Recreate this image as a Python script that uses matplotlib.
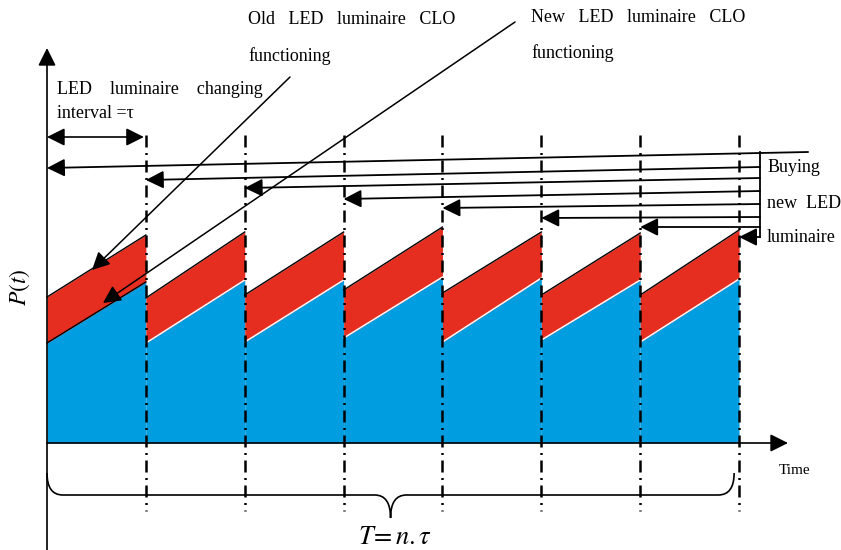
import matplotlib.pyplot as plt
import numpy as np
from matplotlib.path import Path
from matplotlib.patches import PathPatch

plt.rcParams['font.family'] = ['Liberation Serif', 'DejaVu Serif']
plt.rcParams['mathtext.fontset'] = 'stix'

# one luminaire changing interval tau = 1, seven intervals
n_periods = 7
starts = np.arange(n_periods)          # start of each interval
changes = np.arange(1, n_periods + 1)  # replacement instants

# CLO power levels (arbitrary units, baseline = 0)
blue_start = [100, 100, 101, 105, 101, 103, 101]
blue_end = [161, 163, 163, 166, 165, 163, 164]
red_start = [146, 145, 148, 153, 150, 148, 148]
red_end = [208, 211, 211, 216, 211, 210, 213]

# "Buying new LED luminaire" arrows: level at the tip and at the bracket
buy_tip_t = list(range(0, n_periods + 1))
buy_tip_P = [275, 263, 255, 244, 235, 225, 216, 206]
buy_right_P = [291, 276, 265, 252, 239, 226, 216, 206]

BLUE = '#009de0'
RED = '#e52e1f'

fig = plt.figure(figsize=(8.41, 5.5), dpi=100)
ax = fig.add_axes([0, 0, 1, 1])
ax.set_xlim(-0.4754, 8.031)
ax.set_ylim(-107, 443)
ax.axis('off')

# power curves
for i in range(n_periods):
    t = [starts[i], starts[i] + 1]
    ax.fill_between(t, [0, 0], [blue_start[i], blue_end[i]], color=BLUE, lw=0, zorder=1)
    ax.fill_between(t, [blue_start[i], blue_end[i]], [red_start[i], red_end[i]],
                    color=RED, lw=0, zorder=1)
    ax.plot(t, [red_start[i], red_end[i]], color='k', lw=1.0, zorder=2)
    ax.plot(t, [blue_start[i], blue_end[i]], color='k' if i == 0 else 'white',
            lw=1.0, zorder=2)

# replacement instants
for t in changes:
    ax.plot([t, t], [308, -68], color='k', lw=1.8,
            linestyle=(0, (4.8, 2.2, 0.8, 2.2)), zorder=3)

head = '-|>,head_length=0.6,head_width=0.3'
def arrow(x0, y0, x1, y1, style=head, ms=18, lw=1.2):
    ax.annotate('', xy=(x1, y1), xytext=(x0, y0),
                arrowprops=dict(arrowstyle=style, mutation_scale=ms, lw=lw,
                                color='k', shrinkA=0, shrinkB=0), zorder=4)

# axes
arrow(0, 0, 7.495, 0)
arrow(0, -107, 0, 395)

# changing interval
arrow(0, 306, 0.98, 306, style='<|-|>,head_length=0.6,head_width=0.3')
ax.text(0.10, 353, 'LED    luminaire    changing', fontsize=13, va='center', ha='left')
ax.text(0.10, 330, 'interval =τ', fontsize=13, va='center', ha='left')

# buying new luminaires
for i in range(len(buy_tip_t)):
    x_right = 7.698 if i == 0 else 7.212
    arrow(x_right, buy_right_P[i], buy_tip_t[i], buy_tip_P[i], lw=1.3)
ax.plot([7.212, 7.212], [buy_right_P[0], buy_right_P[-1]], color='k', lw=1.3)
ax.text(7.283, 276, 'Buying', fontsize=13, va='center')
ax.text(7.283, 240, 'new  LED', fontsize=13, va='center')
ax.text(7.283, 205, 'luminaire', fontsize=13, va='center')

# CLO annotations
ax.text(2.033, 423, 'Old   LED   luminaire   CLO', fontsize=13, va='center')
ax.text(2.033, 387, 'functioning', fontsize=13, va='center')
arrow(2.458, 366, 0.455, 173, lw=1.1)
ax.text(4.896, 425, 'New   LED   luminaire   CLO', fontsize=13, va='center')
ax.text(4.896, 390, 'functioning', fontsize=13, va='center')
arrow(4.734, 421, 0.566, 140, lw=1.1)

# labels
ax.text(-0.273, 156, r'$P(t)$', fontsize=17, rotation=90, ha='center', va='center')
ax.text(7.566, -27, 'Time', fontsize=11, ha='center', va='center')
ax.text(3.52, -95, r'$T\!=n.\tau$', fontsize=19, ha='center', va='center')

# brace over the whole horizon
x0, x1, xm = 0.0, 6.95, 3.475
y_top, y_mid, y_tip, r = -30, -52, -75, 0.16
verts = [(x0, y_top), (x0, y_mid), (x0 + r, y_mid), (xm - r, y_mid),
         (xm, y_mid), (xm, y_tip), (xm, y_mid), (xm + r, y_mid),
         (x1 - r, y_mid), (x1, y_mid), (x1, y_top)]
codes = [Path.MOVETO, Path.CURVE3, Path.CURVE3, Path.LINETO,
         Path.CURVE3, Path.CURVE3, Path.CURVE3, Path.CURVE3,
         Path.LINETO, Path.CURVE3, Path.CURVE3]
ax.add_patch(PathPatch(Path(verts, codes), fill=False, lw=1.2, color='k'))

fig.savefig('out.png', dpi=100)
